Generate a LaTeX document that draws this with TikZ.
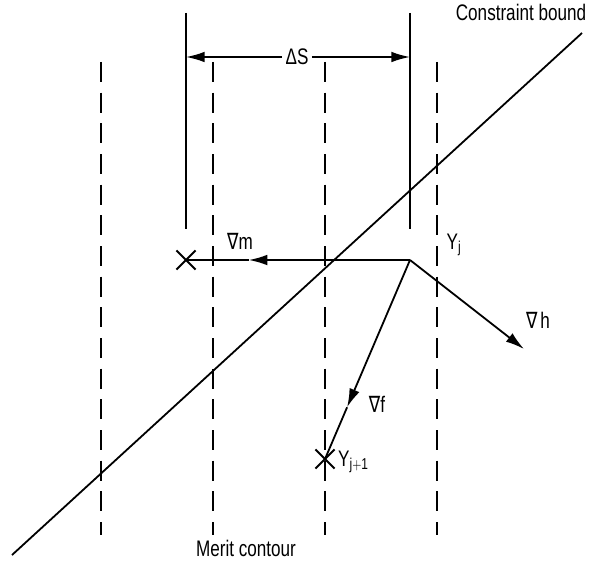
\documentclass[tikz,border=0pt]{standalone}
\usepackage{fontspec}
\setmainfont{Liberation Sans}
\newfontfamily\symfont{DejaVu Sans}
\usetikzlibrary{arrows.meta,shapes.misc,calc}
\newcommand\tall[1]{\scalebox{0.95}[1.25]{#1}}
\begin{document}
\begin{tikzpicture}[x=0.75pt,y=-0.75pt,
  line width=1.35pt,
  lbl/.style={font=\fontsize{13.5}{15}\selectfont, inner sep=1pt},
  contour/.style={line width=1.3pt, dash pattern=on 15pt off 8pt},
  cross/.style={cross out, draw, line width=1.4pt, minimum size=13pt, inner sep=0pt},
  tip/.style={-{Latex[length=14pt,width=8pt]}}]
\useasboundingbox (0,0) rectangle (606,567);
% merit contours
\foreach \n/\x in {c1/101,c2/213,c3/325,c4/437}{
  \coordinate (\n t) at (\x,62);
  \coordinate (\n b) at (\x,535);
  \draw[contour] (\n t) -- (\n b);
}
% points
\coordinate (yj) at (410,260);
\node[cross] (xm) at (186,260) {};
\node[cross] (yj1) at (325,459) {};
% extension lines
\coordinate (e1t) at (186,13);
\coordinate (e1b) at (186,229);
\coordinate (e2t) at (410,13);
\coordinate (e2b) at (410,229);
\draw (e1t) -- (e1b);
\draw (e2t) -- (e2b);
% dimension
\node[lbl, fill=white, inner sep=2pt] (ds) at (297,57) {\tall{ΔS}};
\coordinate (d1) at (186,57);
\coordinate (d2) at (410,57);
\draw[tip] (ds) -- (d1);
\draw[tip] (ds) -- (d2);
% constraint bound
\coordinate (cb1) at (12,555);
\coordinate (cb2) at (582,33);
\draw (cb1) -- (cb2);
\node[lbl] (cbl) at (521,12) {\tall{Constraint bound}};
% grad m
\coordinate (mm) at ($(yj)!0.72!(xm.center)$);
\draw[tip] (yj) -- (mm);
\draw (mm) -- (xm.center);
\node[lbl] (gm) at (240,241) {\tall{{\symfont ∇}m}};
% grad h
\coordinate (hh) at (524,349);
\draw[tip] (yj) -- (hh);
\node[lbl] (gh) at (538,320) {\tall{{\symfont ∇}\,h}};
% grad f
\coordinate (ff) at ($(yj)!0.74!(yj1.center)$);
\draw[tip] (yj) -- (ff);
\draw (ff) -- (yj1.center);
\node[lbl] (gf) at (377,404) {\tall{{\symfont ∇}f}};
% labels
\node[lbl] (yjl) at (454,245) {\tall{Y$_{\mathrm{j}}$}};
\node[lbl, anchor=west] (yj1l) at (336,462) {\tall{Y$_{\mathrm{j+1}}$}};
\node[lbl] (mc) at (246,548) {\tall{Merit contour}};
\end{tikzpicture}
\end{document}
